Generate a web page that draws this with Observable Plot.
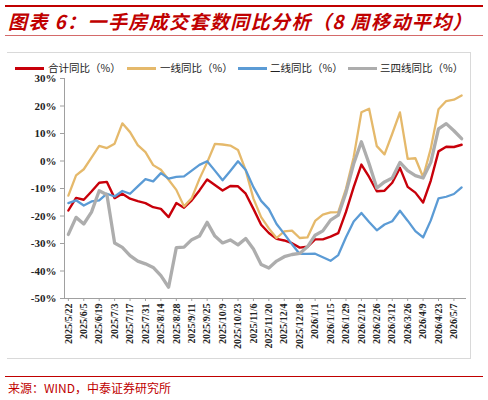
<!DOCTYPE html>
<html><head><meta charset="utf-8">
<script src="https://cdn.jsdelivr.net/npm/d3@7"></script>
<script src="https://cdn.jsdelivr.net/npm/@observablehq/plot@0.6"></script>
<style>
body{margin:0;background:#fff;width:488px;height:400px;overflow:hidden;position:relative;font-family:"Noto Sans CJK SC",sans-serif;}
.abs{position:absolute;}
#chart{position:absolute;left:0;top:0;z-index:2;}
#title{left:8px;top:9px;font-size:19px;line-height:24px;font-weight:bold;font-style:italic;color:#c00000;white-space:nowrap;}
.lg-line{position:absolute;height:3px;}
.lg-text{position:absolute;font-size:10.5px;line-height:12px;color:#222;white-space:nowrap;}
</style></head><body>
<div class="abs" style="left:5px;top:5px;width:478px;height:2px;background:#c00000"></div>
<div class="abs" id="title">图表 6：一手房成交套数同比分析（8 周移动平均）</div>
<div class="abs" style="left:5px;top:35px;width:478px;height:1px;background:#d46a6a"></div>
<div class="abs" style="left:7px;top:52px;width:463px;height:305px;border:1px solid #d9d9d9;border-left:none"></div>
<div id="legend"></div>
<div id="chart"></div>
<div class="abs" style="left:5px;top:376px;width:478px;height:1px;background:#c00000"></div>
<div class="abs" style="left:8px;top:380px;font-size:12px;line-height:16px;color:#c00000">来源：WIND，中泰证券研究所</div>
<script>
const dates = ["2025/5/22","2025/5/29","2025/6/5","2025/6/12","2025/6/19","2025/6/26","2025/7/3","2025/7/10","2025/7/17","2025/7/24","2025/7/31","2025/8/7","2025/8/14","2025/8/21","2025/8/28","2025/9/4","2025/9/11","2025/9/18","2025/9/25","2025/10/2","2025/10/9","2025/10/16","2025/10/23","2025/10/30","2025/11/6","2025/11/13","2025/11/20","2025/11/27","2025/12/4","2025/12/11","2025/12/18","2025/12/25","2026/1/1","2026/1/8","2026/1/15","2026/1/22","2026/1/29","2026/2/5","2026/2/12","2026/2/19","2026/2/26","2026/3/5","2026/3/12","2026/3/19","2026/3/26","2026/4/2","2026/4/9","2026/4/16","2026/4/23","2026/4/30","2026/5/7","2026/5/14"];
const tickLabels = ["2025/5/22","2025/6/5","2025/6/19","2025/7/3","2025/7/17","2025/7/31","2025/8/14","2025/8/28","2025/9/11","2025/9/25","2025/10/9","2025/10/23","2025/11/6","2025/11/20","2025/12/4","2025/12/18","2026/1/1","2026/1/15","2026/1/29","2026/2/12","2026/2/26","2026/3/12","2026/3/26","2026/4/9","2026/4/23","2026/5/7"];
const total = [-18.0,-13.4,-14.1,-11.1,-7.9,-7.6,-13.5,-11.9,-13.7,-14.6,-15.3,-16.8,-17.4,-20.4,-15.3,-17.0,-14.3,-10.7,-6.7,-8.7,-10.7,-9.1,-9.2,-11.9,-17.4,-23.2,-26.2,-28.3,-28.9,-29.9,-31.5,-31.2,-28.5,-28.5,-27.5,-26.2,-18.5,-9.5,-1.3,-5.8,-11.0,-10.8,-7.9,-2.5,-9.4,-11.5,-15.1,-7.1,3.5,5.2,5.1,5.9];
const tier1 = [-12.6,-5.2,-3.0,1.2,5.5,4.7,6.3,13.7,10.5,5.8,3.2,-1.5,-3.2,-6.8,-10.5,-16.5,-13.5,-6.5,-0.5,6.2,6.0,5.6,4.0,-3.4,-13.7,-20.4,-24.5,-28.0,-25.6,-25.3,-28.0,-27.8,-21.8,-19.5,-18.7,-18.6,-10.1,1.4,17.7,19.0,5.4,2.4,9.9,17.7,0.8,1.0,-5.8,4.5,18.8,21.8,22.3,23.8];
const tier2 = [-15.3,-14.3,-16.2,-14.7,-14.3,-11.9,-12.9,-10.9,-11.9,-9.2,-6.6,-7.4,-4.4,-6.4,-5.8,-5.6,-3.5,-1.4,-0.1,-3.5,-7.0,-3.6,-0.1,-3.3,-9.5,-14.5,-17.5,-22.9,-26.5,-30.3,-33.8,-33.8,-33.7,-35.0,-36.3,-34.2,-27.7,-22.0,-18.9,-22.2,-25.2,-23.1,-21.9,-18.1,-21.7,-25.5,-27.8,-21.6,-13.6,-13.0,-12.0,-9.6];
const tier34 = [-26.7,-20.5,-22.9,-18.6,-10.8,-12.3,-29.8,-31.4,-34.4,-36.4,-37.4,-38.7,-41.7,-45.9,-31.5,-31.3,-28.6,-27.3,-22.3,-27.3,-29.8,-28.7,-30.5,-28.2,-32.0,-37.6,-38.9,-36.4,-34.8,-34.0,-33.6,-31.2,-27.0,-25.4,-21.5,-19.7,-11.5,-1.0,7.0,-1.0,-9.8,-7.6,-6.2,-0.5,-3.5,-5.3,-6.2,-0.5,11.7,13.6,11.0,8.1];
const seriesNames = ["合计同比（%）","一线同比（%）","二线同比（%）","三四线同比（%）"];
const seriesColors = ["#c8000a","#e5b96b","#5b9bd5","#adadad"];
const seriesWidths = [2.4,2.3,2.3,3.3];
const yTicks = [-50,-40,-30,-20,-10,0,10,20,30];

const allValues = [total, tier1, tier2, tier34];
const rows = allValues.flatMap((vals, s) => dates.map((d, i) => ({date: d, value: vals[i], s})));

const chart = Plot.plot({
  width: 488, height: 400,
  marginTop: 78, marginBottom: 102, marginLeft: 64, marginRight: 23,
  style: {background: "transparent", fontFamily: "'Liberation Serif', serif"},
  x: {type: "point", domain: dates, padding: 0.5, label: null},
  y: {domain: [-50, 30], label: null},
  marks: [
    Plot.frame({anchor: "left", stroke: "#a0a0a0"}),
    Plot.frame({anchor: "bottom", stroke: "#a0a0a0"}),
    Plot.axisY({ticks: yTicks, tickFormat: d => d + "%", tickSize: 4, tickPadding: 4, fontSize: 11, fontWeight: "bold", stroke: "#a0a0a0", color: "#222"}),
    Plot.axisX({ticks: tickLabels, tickRotate: -90, tickSize: 3, tickPadding: 2, fontSize: 10, fontWeight: "bold", stroke: "#a0a0a0", color: "#222"}),
    ...allValues.map((vals, s) => Plot.line(rows.filter(r => r.s === s), {
      x: "date", y: "value", stroke: seriesColors[s], strokeWidth: seriesWidths[s], strokeLinejoin: "round"
    }))
  ]
});
document.getElementById("chart").appendChild(chart);

// legend
const legend = document.getElementById("legend");
const lgPos = [[15, 48], [127, 160], [238, 270], [348, 380]];
seriesNames.forEach((n, i) => {
  const l = document.createElement("div");
  l.className = "lg-line";
  l.style.left = lgPos[i][0] + "px"; l.style.top = "67px"; l.style.width = "29px";
  l.style.background = seriesColors[i];
  legend.appendChild(l);
  const t = document.createElement("div");
  t.className = "lg-text";
  t.style.left = lgPos[i][1] + "px"; t.style.top = "62px";
  t.textContent = n;
  legend.appendChild(t);
});

// fit title width
const title = document.getElementById("title");
const w = title.getBoundingClientRect().width;
const n = title.textContent.length;
title.style.letterSpacing = ((465 - w) / n) + "px";
</script>
</body></html>
